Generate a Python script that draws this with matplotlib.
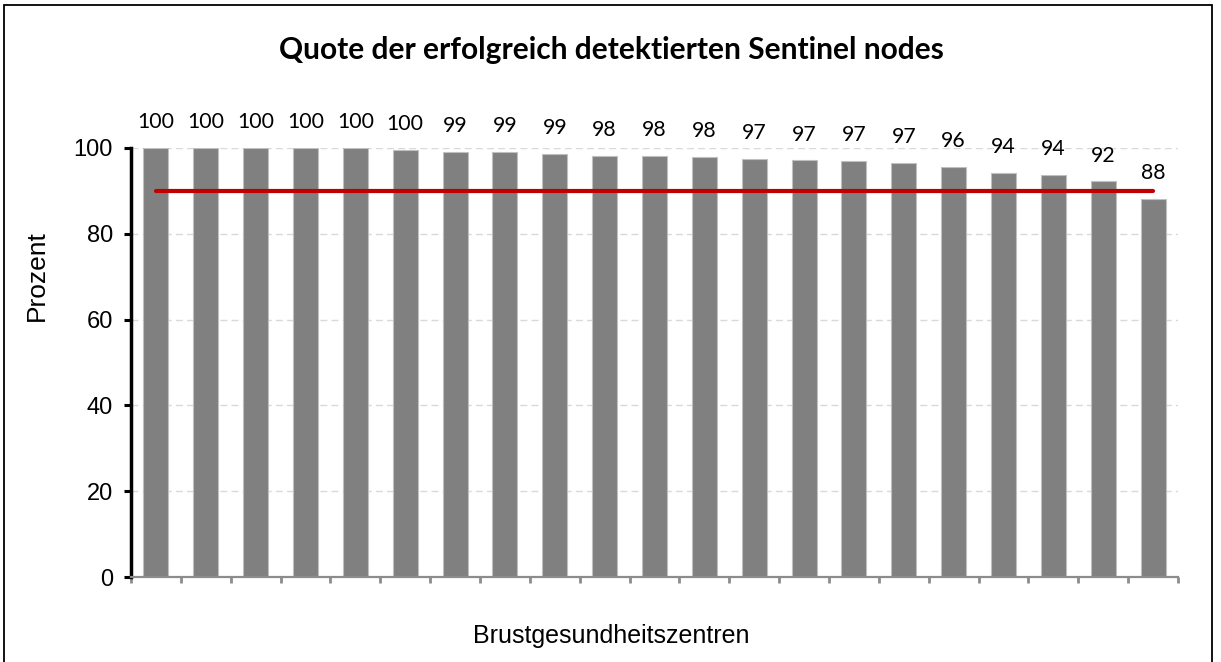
import matplotlib
matplotlib.use("Agg")
import matplotlib.pyplot as plt
from matplotlib.patches import Rectangle
import numpy as np

# Data
centers = [f"Zentrum {i}" for i in range(1, 22)]
quote = [100.0, 100.0, 100.0, 100.0, 100.0, 99.5, 99.1, 99.1, 98.6, 98.15,
         98.1, 97.9, 97.4, 97.1, 97.0, 96.6, 95.6, 94.2, 93.8, 92.2, 88.2]
target = 90
yticks = [0, 20, 40, 60, 80, 100]

title = "Quote der erfolgreich detektierten Sentinel nodes"
ylabel = "Prozent"
xlabel = "Brustgesundheitszentren"

fig = plt.figure(figsize=(12.21, 6.62), dpi=100)
ax = fig.add_axes([131/1221, 1 - 577/662, (1178-131)/1221, (577-148)/662])

x = np.arange(len(quote))
ax.bar(x, quote, width=0.5, color="#808080", edgecolor="#c0c0c0", linewidth=0.8, zorder=2)

for xi, v in zip(x, quote):
    ax.annotate(f"{v:.0f}", (xi, v), xytext=(0, 18.5), textcoords="offset points",
                ha="center", va="center", fontsize=15.3, family="Lato",
                annotation_clip=False)

ax.plot([x[0], x[-1]], [target, target], color="#C00000", linewidth=3.0,
        solid_capstyle="round", zorder=3)

ax.set_xlim(-0.5, len(quote) - 0.5)
ax.set_ylim(0, 100)
ax.set_yticks(yticks)
ax.set_yticklabels([str(t) for t in yticks], fontsize=17, family="Liberation Sans")
ax.yaxis.grid(True, linestyle=(0, (5, 3)), color="#d9d9d9", linewidth=1, zorder=0)
ax.set_axisbelow(True)

ax.set_xticks(np.arange(-0.5, len(quote), 1.0))
ax.set_xticklabels([])
ax.tick_params(axis="x", direction="out", length=4, width=2, color="#8c8c8c")
ax.tick_params(axis="y", direction="out", length=5, width=2.2, color="black", pad=8)

for s in ["top", "right"]:
    ax.spines[s].set_visible(False)
ax.spines["left"].set_linewidth(2.5)
ax.spines["left"].set_color("black")
ax.spines["bottom"].set_linewidth(1.6)
ax.spines["bottom"].set_color("#8c8c8c")

fig.text(37/1221, 1 - 276/662, ylabel, ha="center", va="center", rotation=90,
         fontsize=19, family="Liberation Sans")
fig.text(611/1221, 1 - 636/662, xlabel, ha="center", va="center",
         fontsize=18, family="Liberation Sans")
fig.text(611/1221, 1 - 50/662, title, ha="center", va="center",
         fontsize=21.5, fontweight="bold", family="Lato")

fig.patches.append(Rectangle((4/1221, -0.02), (1212-4)/1221, 1.02 - 5/662,
                             transform=fig.transFigure, fill=False,
                             edgecolor="black", linewidth=1.3))

fig.savefig("out.png", dpi=100)
